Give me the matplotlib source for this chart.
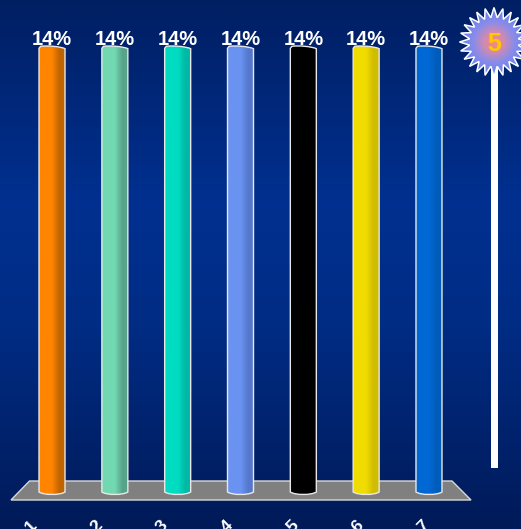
import numpy as np
import matplotlib
matplotlib.use('Agg')
import matplotlib.pyplot as plt
from matplotlib.colors import LinearSegmentedColormap
from matplotlib.patches import Polygon, PathPatch
from matplotlib.path import Path

categories = [1, 2, 3, 4, 5, 6, 7]
values = [14, 14, 14, 14, 14, 14, 14]
value_labels = ['14%', '14%', '14%', '14%', '14%', '14%', '14%']
timer_number = '5'

bar_colors = ['#ff8400', '#72d8b2', '#00dcc2', '#6a92f0', '#000000', '#f0dc00', '#0068d4']
dark_colors = ['#c06400', '#58a48a', '#00b8a6', '#5678cc', '#000000', '#d0bc00', '#005cba']

W, H = 521, 529
plt.rcParams['font.family'] = ['Liberation Sans', 'DejaVu Sans']

fig = plt.figure(figsize=(W / 100, H / 100), dpi=100)

# background and things that are not data, in pixels
bg = fig.add_axes([0, 0, 1, 1])
bg.set_xlim(0, W)
bg.set_ylim(H, 0)
bg.axis('off')
back = LinearSegmentedColormap.from_list('back', [(0, '#001f63'), (0.38, '#003090'), (0.62, '#002c84'), (1, '#001a58')])
bg.imshow(np.linspace(0, 1, 256).reshape(-1, 1), cmap=back, extent=(0, W, H, 0), aspect='auto')
bg.add_patch(Polygon([(11, 500), (29.5, 481), (452, 481), (471, 500)], fc='#808080', ec='#d8d8d8', lw=1))

# timer
bg.add_patch(plt.Rectangle((491, 60), 6.5, 408, fc='white', ec='none'))
n = 24
ang = np.arange(n * 2) * np.pi / n
rad = np.where(np.arange(n * 2) % 2 == 0, 34.5, 24.5)
star = np.column_stack([494 + rad * np.cos(ang), 42 + rad * np.sin(ang)])
bg.add_patch(Polygon(star, fc='none', ec='white', lw=1.1, zorder=4))
yy, xx = np.mgrid[-36:36:144j, -36:36:144j]
burst = LinearSegmentedColormap.from_list('burst', ['#f88a78', '#d08ab0', '#8c8ce8', '#6f84f0'])
im = bg.imshow(np.hypot(xx, yy) / 30, cmap=burst, vmin=0, vmax=1, extent=(458, 530, 78, 6), aspect='auto', zorder=3)
im.set_clip_path(Polygon(star, transform=bg.transData))
bg.text(494, 44, timer_number, color='#ffc800', fontsize=18, fontweight='bold', ha='center', va='center', zorder=5)
bg.set_xlim(0, W)
bg.set_ylim(H, 0)

# chart, y range runs a little past the bars so the curved ends are not clipped
px = 14 / 445
ax = fig.add_axes([20.6 / W, (H - 500) / H, 439.8 / W, 460 / H])
ax.set_xlim(0.5, 7.5)
ax.set_ylim(-8 * px, 14 + 7 * px)
ax.axis('off')

width = 26 / 62.83
rects = ax.bar(categories, values, width=width, color='none', edgecolor='none')
for rect, c, d, lab in zip(rects, bar_colors, dark_colors, value_labels):
    x0, w, h = rect.get_x(), rect.get_width(), rect.get_height()
    dy = h * 0.0075
    verts = [(x0, 0), (x0 + w * 0.2, -dy), (x0 + w * 0.8, -dy), (x0 + w, 0),
             (x0 + w, h - dy * 0.5),
             (x0 + w * 0.8, h + dy * 0.2), (x0 + w * 0.3, h + dy * 0.5), (x0 + w * 0.06, h + dy * 0.2),
             (x0, h - dy * 0.4), (x0, 0)]
    codes = [Path.MOVETO, Path.CURVE4, Path.CURVE4, Path.CURVE4, Path.LINETO,
             Path.CURVE4, Path.CURVE4, Path.CURVE4, Path.LINETO, Path.CLOSEPOLY]
    path = Path(verts, codes)
    ax.add_patch(PathPatch(path, fc='none', ec='#e8e8e8', lw=1, zorder=4, clip_on=False))
    shade = LinearSegmentedColormap.from_list('s', [(0, c), (0.5, c), (0.8, d), (1, d)])
    grad = ax.imshow(np.linspace(0, 1, 26).reshape(1, -1), cmap=shade, extent=(x0, x0 + w, -dy, h + dy),
                     aspect='auto', interpolation='nearest', zorder=3)
    grad.set_clip_path(PathPatch(path, transform=ax.transData))
    ax.text(x0 + w / 2, h - dy * 0.5, lab, color='white', fontsize=14.5, fontweight='bold', ha='center', va='bottom', clip_on=False)
ax.set_xlim(0.5, 7.5)
ax.set_ylim(-8 * px, 14 + 7 * px)

# category labels run along the front edge of the floor
for cat in categories:
    bg.text(31.5 + 65.3 * (cat - 1), 526, str(cat), color='white', fontsize=12.5, fontweight='bold',
            rotation=45, ha='center', va='center', clip_on=True)

fig.savefig('out.png', dpi=100)
